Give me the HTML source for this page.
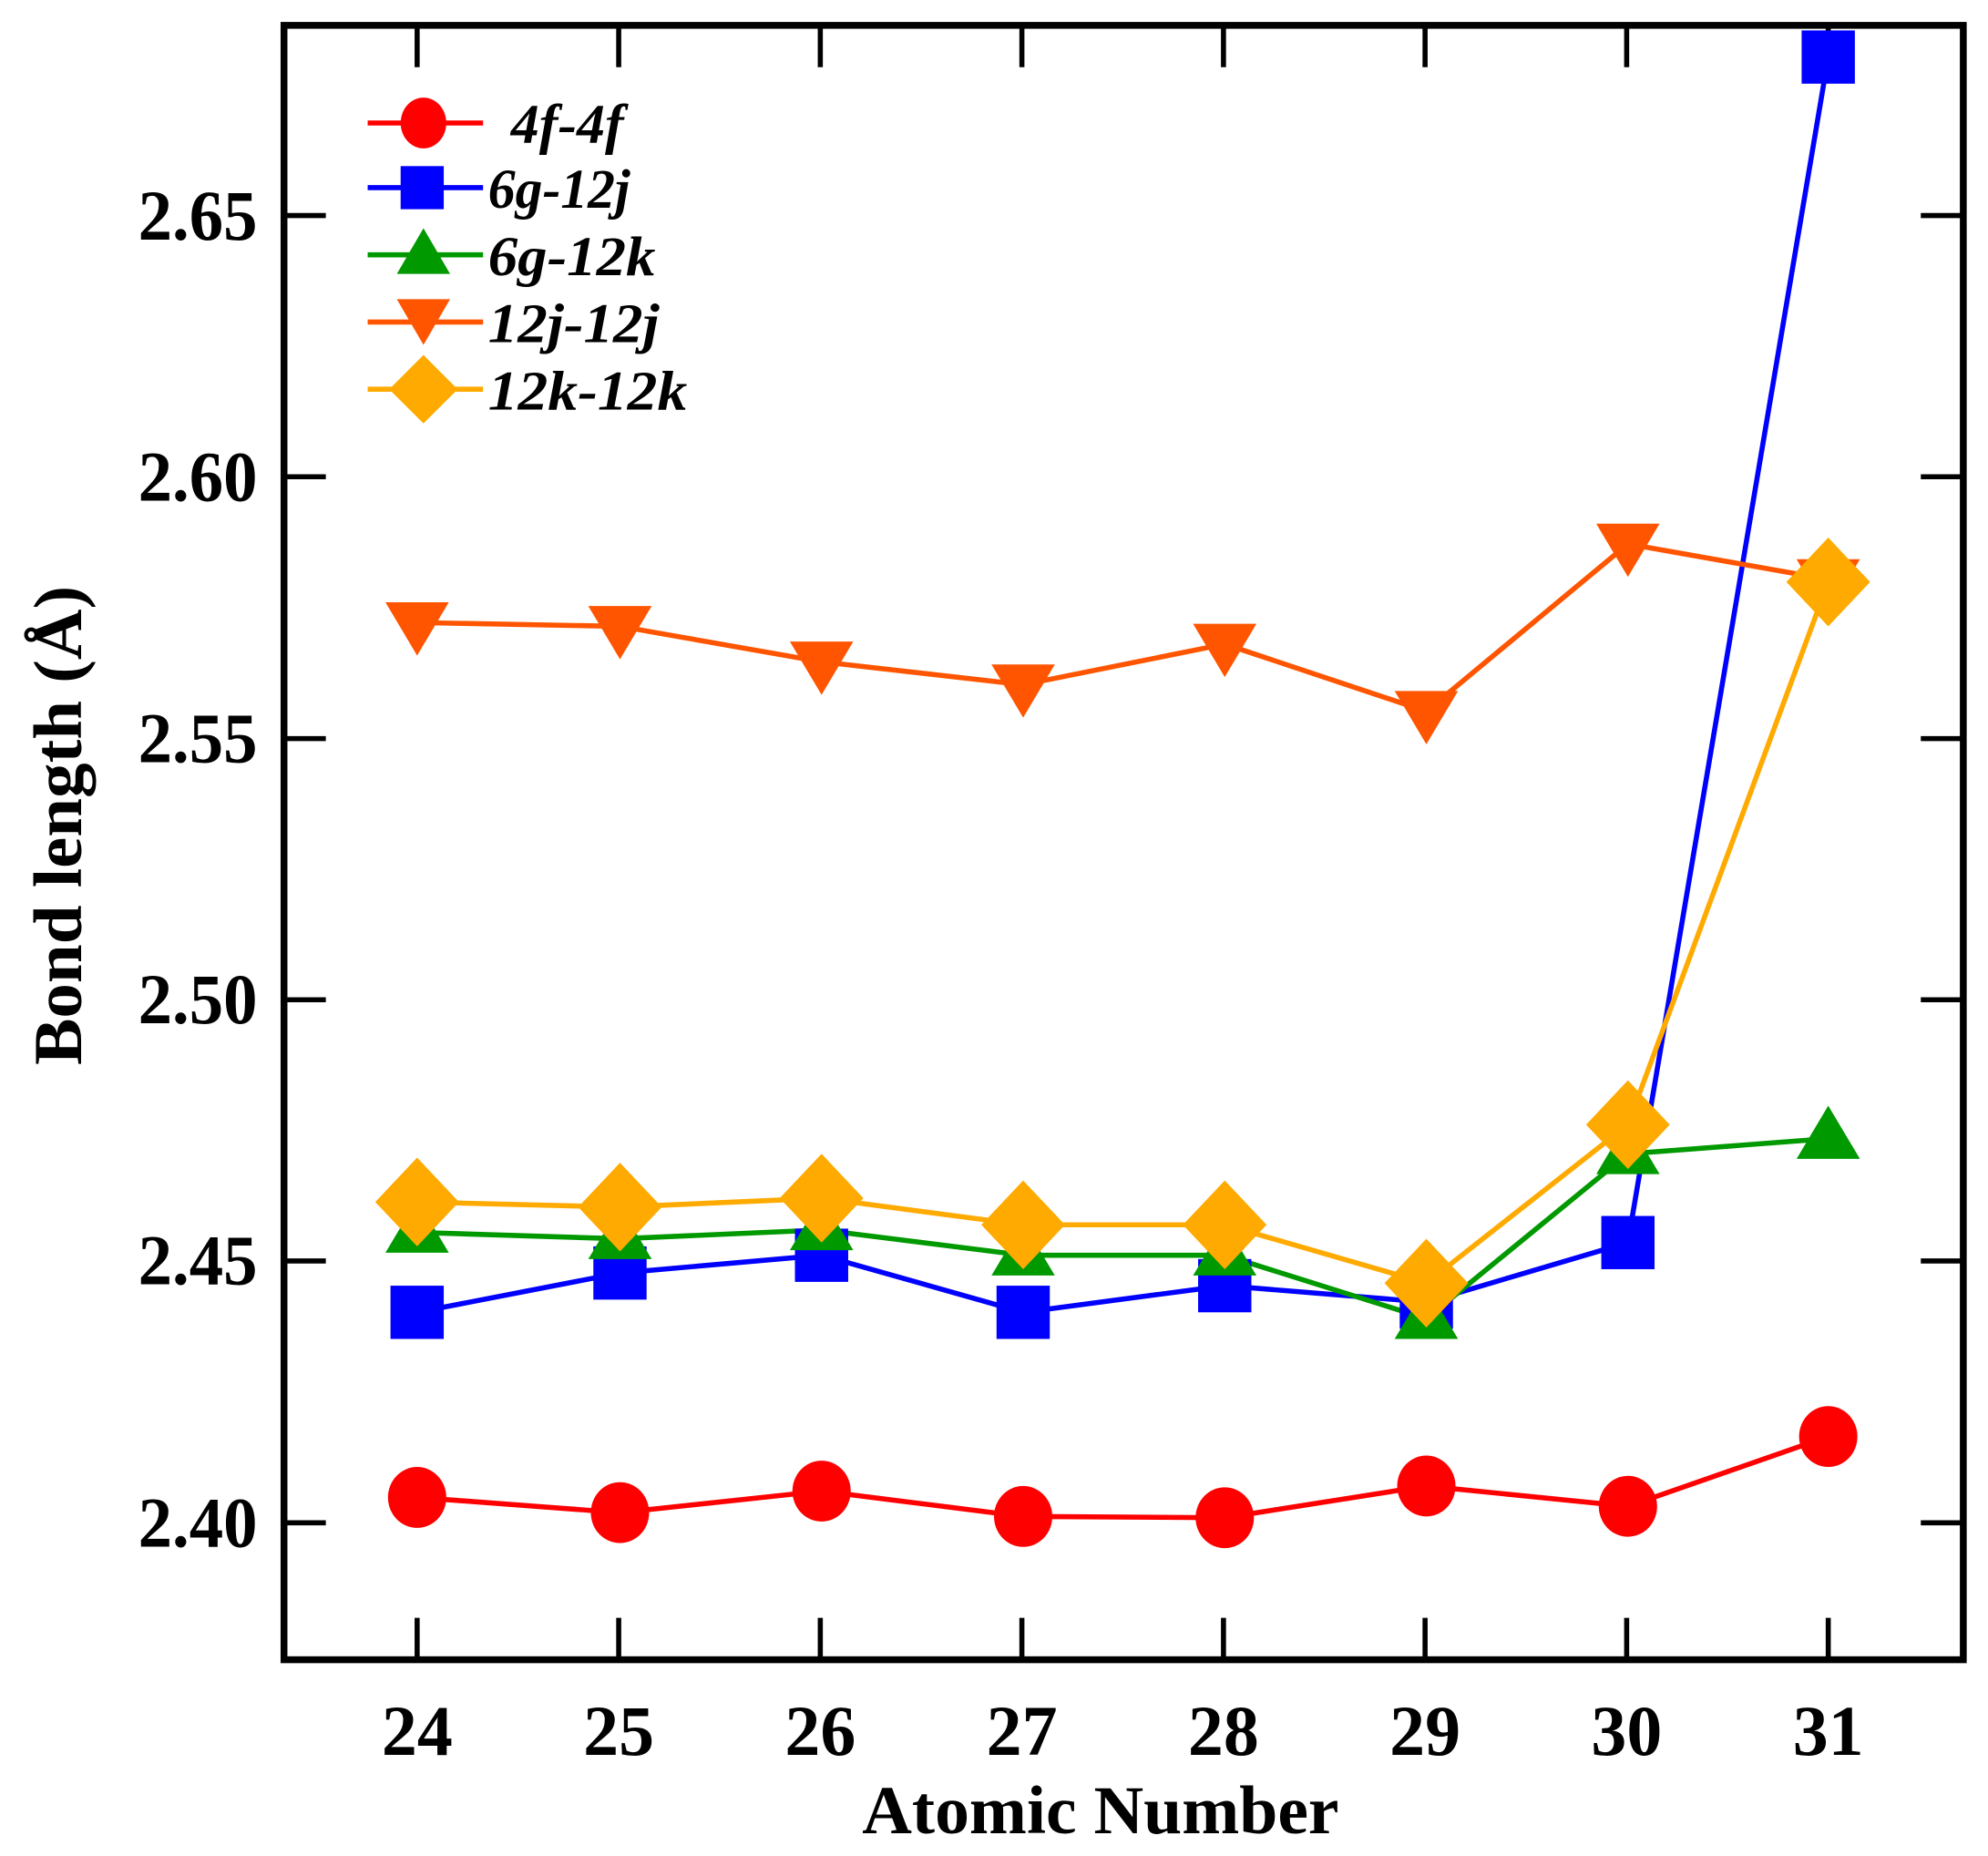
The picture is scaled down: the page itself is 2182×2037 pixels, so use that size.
<!DOCTYPE html>
<html><head><meta charset="utf-8"><style>html,body{margin:0;padding:0;background:#fff}svg{display:block}text{font-family:"Liberation Serif","DejaVu Serif",serif;font-weight:bold}</style></head>
<body>
<svg width="2182" height="2037" viewBox="0 0 1568 1463.8" preserveAspectRatio="none" xmlns="http://www.w3.org/2000/svg">
<rect x="0" y="0" width="1568" height="1464" fill="#fff"/>
<g stroke="#000" stroke-width="4">
<line x1="329" y1="20" x2="329" y2="53"/><line x1="488" y1="20" x2="488" y2="53"/><line x1="647" y1="20" x2="647" y2="53"/><line x1="806" y1="20" x2="806" y2="53"/><line x1="965" y1="20" x2="965" y2="53"/><line x1="1124" y1="20" x2="1124" y2="53"/><line x1="1283" y1="20" x2="1283" y2="53"/><line x1="1442" y1="20" x2="1442" y2="53"/>
<line x1="329" y1="1309" x2="329" y2="1276"/><line x1="488" y1="1309" x2="488" y2="1276"/><line x1="647" y1="1309" x2="647" y2="1276"/><line x1="806" y1="1309" x2="806" y2="1276"/><line x1="965" y1="1309" x2="965" y2="1276"/><line x1="1124" y1="1309" x2="1124" y2="1276"/><line x1="1283" y1="1309" x2="1283" y2="1276"/><line x1="1442" y1="1309" x2="1442" y2="1276"/>
<line x1="224" y1="170" x2="257" y2="170"/><line x1="224" y1="376" x2="257" y2="376"/><line x1="224" y1="582.5" x2="257" y2="582.5"/><line x1="224" y1="788.5" x2="257" y2="788.5"/><line x1="224" y1="994.5" x2="257" y2="994.5"/><line x1="224" y1="1201" x2="257" y2="1201"/>
<line x1="1548.5" y1="170" x2="1515" y2="170"/><line x1="1548.5" y1="376" x2="1515" y2="376"/><line x1="1548.5" y1="582.5" x2="1515" y2="582.5"/><line x1="1548.5" y1="788.5" x2="1515" y2="788.5"/><line x1="1548.5" y1="994.5" x2="1515" y2="994.5"/><line x1="1548.5" y1="1201" x2="1515" y2="1201"/>
</g>
<rect x="224" y="20" width="1324.5" height="1289" fill="none" stroke="#000" stroke-width="5.4"/>
<g font-size="56" text-anchor="end">
<text x="203" y="189" textLength="94" lengthAdjust="spacingAndGlyphs">2.65</text><text x="203" y="395" textLength="94" lengthAdjust="spacingAndGlyphs">2.60</text><text x="203" y="601" textLength="94" lengthAdjust="spacingAndGlyphs">2.55</text><text x="203" y="807" textLength="94" lengthAdjust="spacingAndGlyphs">2.50</text><text x="203" y="1013" textLength="94" lengthAdjust="spacingAndGlyphs">2.45</text><text x="203" y="1220" textLength="94" lengthAdjust="spacingAndGlyphs">2.40</text>
</g>
<g font-size="56" text-anchor="middle">
<text x="329" y="1384">24</text><text x="488" y="1384">25</text><text x="647" y="1384">26</text><text x="806" y="1384">27</text><text x="965" y="1384">28</text><text x="1124" y="1384">29</text><text x="1283" y="1384">30</text><text x="1442" y="1384">31</text>
</g>
<text x="868" y="1446" font-size="54" text-anchor="middle" textLength="376" lengthAdjust="spacingAndGlyphs">Atomic Number</text>
<text transform="translate(64,651) rotate(-90)" font-size="54" text-anchor="middle" textLength="378" lengthAdjust="spacingAndGlyphs">Bond length (Å)</text>
<g fill="none" stroke-width="4" stroke-linejoin="round">
<polyline stroke="#ff0000" points="329,1181 489,1193 648,1176 807,1196 966,1197 1125,1172 1284,1188 1442,1133"/>
<polyline stroke="#0000ff" points="329,1035 489,1004 648,990 807,1035 966,1014 1125,1027 1284,980 1442,45"/>
<polyline stroke="#009900" points="329,972 489,977 648,970 807,990 966,990 1125,1040 1284,910 1442,898"/>
<polyline stroke="#ff5500" points="329,491 489,494 648,522 807,540 966,508 1125,561 1284,429 1442,457"/>
<polyline stroke="#ffaa00" points="329,948 489,952 648,945 807,966 966,966 1125,1012 1284,887 1442,459"/>
</g>
<g fill="#ff0000">
<ellipse cx="329" cy="1181" rx="23" ry="24"/><ellipse cx="489" cy="1193" rx="23" ry="24"/><ellipse cx="648" cy="1176" rx="23" ry="24"/><ellipse cx="807" cy="1196" rx="23" ry="24"/><ellipse cx="966" cy="1197" rx="23" ry="24"/><ellipse cx="1125" cy="1172" rx="23" ry="24"/><ellipse cx="1284" cy="1188" rx="23" ry="24"/><ellipse cx="1442" cy="1133" rx="23" ry="24"/>
</g>
<g fill="#0000ff">
<rect x="308" y="1014" width="42" height="42"/><rect x="468" y="983" width="42" height="42"/><rect x="627" y="969" width="42" height="42"/><rect x="786" y="1014" width="42" height="42"/><rect x="945" y="993" width="42" height="42"/><rect x="1104" y="1006" width="42" height="42"/><rect x="1263" y="959" width="42" height="42"/><rect x="1421" y="24" width="42" height="42"/>
</g>
<g fill="#009900">
<path d="M329,946 l25,42 h-50 z"/><path d="M489,951 l25,42 h-50 z"/><path d="M648,944 l25,42 h-50 z"/><path d="M807,964 l25,42 h-50 z"/><path d="M966,964 l25,42 h-50 z"/><path d="M1125,1014 l25,42 h-50 z"/><path d="M1284,884 l25,42 h-50 z"/><path d="M1442,872 l25,42 h-50 z"/>
</g>
<g fill="#ff5500">
<path d="M329,517 l25,-42 h-50 z"/><path d="M489,520 l25,-42 h-50 z"/><path d="M648,548 l25,-42 h-50 z"/><path d="M807,566 l25,-42 h-50 z"/><path d="M966,534 l25,-42 h-50 z"/><path d="M1125,587 l25,-42 h-50 z"/><path d="M1284,455 l25,-42 h-50 z"/><path d="M1442,483 l25,-42 h-50 z"/>
</g>
<g fill="#ffaa00">
<path d="M329,913 l33,35 l-33,35 l-33,-35 z"/><path d="M489,917 l33,35 l-33,35 l-33,-35 z"/><path d="M648,910 l33,35 l-33,35 l-33,-35 z"/><path d="M807,931 l33,35 l-33,35 l-33,-35 z"/><path d="M966,931 l33,35 l-33,35 l-33,-35 z"/><path d="M1125,977 l33,35 l-33,35 l-33,-35 z"/><path d="M1284,852 l33,35 l-33,35 l-33,-35 z"/><path d="M1442,424 l33,35 l-33,35 l-33,-35 z"/>
</g>
<g stroke-width="4">
<line x1="290" y1="97" x2="381" y2="97" stroke="#ff0000"/><ellipse cx="334" cy="97" rx="18" ry="20" fill="#ff0000"/>
<line x1="290" y1="148" x2="381" y2="148" stroke="#0000ff"/><rect x="316" y="131" width="34" height="34" fill="#0000ff"/>
<line x1="290" y1="201" x2="381" y2="201" stroke="#009900"/><path d="M334,180 l21,36 h-42 z" fill="#009900"/>
<line x1="290" y1="254" x2="381" y2="254" stroke="#ff5500"/><path d="M334,272 l21,-36 h-42 z" fill="#ff5500"/>
<line x1="290" y1="307" x2="381" y2="307" stroke="#ffaa00"/><path d="M334,280 l27,27 l-27,27 l-27,-27 z" fill="#ffaa00"/>
</g>
<g font-size="44" font-style="italic">
<text x="403" y="113" textLength="89" lengthAdjust="spacingAndGlyphs">4f-4f</text>
<text x="385" y="164" textLength="112" lengthAdjust="spacingAndGlyphs">6g-12j</text>
<text x="385" y="217" textLength="132" lengthAdjust="spacingAndGlyphs">6g-12k</text>
<text x="385" y="270" textLength="135" lengthAdjust="spacingAndGlyphs">12j-12j</text>
<text x="385" y="323" textLength="157" lengthAdjust="spacingAndGlyphs">12k-12k</text>
</g>
</svg>
</body></html>
